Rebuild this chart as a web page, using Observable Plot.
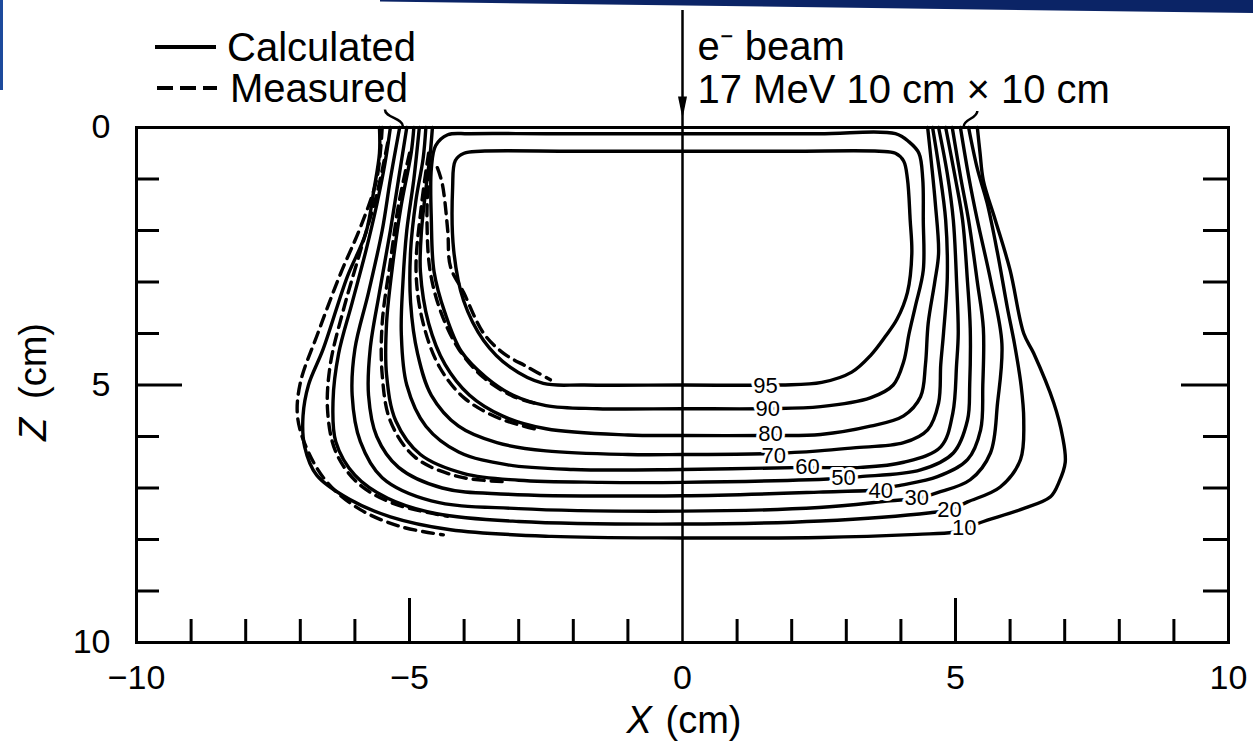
<!DOCTYPE html>
<html>
<head>
<meta charset="utf-8">
<script src="https://cdn.jsdelivr.net/npm/d3@7"></script>
<script src="https://cdn.jsdelivr.net/npm/@observablehq/plot@0.6"></script>
<style>
  body { margin: 0; background: #fff; font-family: "Liberation Sans", Arial, sans-serif; }
  #wrap { position: relative; width: 1253px; height: 750px; overflow: hidden; background: #fff; }
  #topbar { position: absolute; left: 380px; top: 0; width: 873px; height: 13px; background: #0b2466;
            clip-path: polygon(0 0, 100% 0, 100% 100%, 0 12%); }
  #leftbar { position: absolute; left: 0; top: 0; width: 3px; height: 90px; background: #1d4a9c; }
  .leg { position: absolute; display: flex; align-items: center; font-size: 40px; line-height: 40px; color: #000; height: 40px; }
  .leg svg { display: block; }
</style>
</head>
<body>
<div id="wrap">
  <div id="chart"></div>
  <div id="topbar"></div>
  <div id="leftbar"></div>
  <div class="leg" style="left:155px; top:27px;">
    <svg width="62" height="10"><line x1="0" y1="5" x2="61" y2="5" stroke="#000" stroke-width="4"/></svg>
    <span style="margin-left:10px;">Calculated</span>
  </div>
  <div class="leg" style="left:157px; top:68px;">
    <svg width="62" height="10"><line x1="0" y1="5" x2="60" y2="5" stroke="#000" stroke-width="4" stroke-dasharray="16,7"/></svg>
    <span style="margin-left:11px;">Measured</span>
  </div>
</div>
<script>
// ---------- data (x in cm, z = depth in cm) ----------
const levels = [95, 90, 80, 70, 60, 50, 40, 30, 20, 10];

// Calculated isodose curves (solid)
const calc95 = [[0,0.46],[2.0,0.46],[3.6,0.46],[3.9,0.5],[4.05,0.65],[4.12,1.0],[4.17,1.8],[4.2,2.45],[4.12,3.2],[3.93,3.72],[3.72,4.05],[3.45,4.42],[3.1,4.75],[2.55,4.95],[1.8,5.0],[0,5.0],[-1.8,5.0],[-2.55,4.97],[-3.15,4.66],[-3.64,4.14],[-4.01,3.36],[-4.19,2.39],[-4.21,1.16],[-4.16,0.64],[-4.0,0.5],[-3.7,0.46],[-2.0,0.46],[0,0.46]];
const calc90 = [[0,0.12],[2.5,0.12],[3.9,0.12],[4.15,0.28],[4.33,0.5],[4.4,1.0],[4.41,1.8],[4.41,2.77],[4.27,3.45],[4.15,4.0],[4.05,4.55],[3.86,5.0],[3.44,5.25],[2.53,5.42],[1.56,5.46],[0,5.46],[-1.56,5.46],[-2.5,5.4],[-3.1,5.2],[-3.6,4.85],[-4.05,4.35],[-4.35,3.6],[-4.55,2.8],[-4.6,1.8],[-4.6,0.8],[-4.52,0.35],[-4.3,0.14],[-3.9,0.12],[-2.5,0.12],[0,0.12]];
const calc80 = [[-4.58,0],[-4.62,0.5],[-4.7,1.2],[-4.78,2.0],[-4.8,2.8],[-4.65,3.8],[-4.35,4.6],[-3.9,5.2],[-3.3,5.6],[-2.5,5.85],[-1.0,5.97],[0,5.98],[1.61,5.98],[2.53,5.96],[3.44,5.8],[4.05,5.6],[4.36,5.23],[4.45,4.6],[4.5,3.8],[4.62,3.0],[4.69,2.44],[4.63,1.47],[4.56,0.7],[4.49,0]];
const calc70 = [[-4.7,0],[-4.75,0.6],[-4.88,1.4],[-4.98,2.4],[-4.98,3.4],[-4.85,4.4],[-4.6,5.2],[-4.1,5.8],[-3.4,6.12],[-2.5,6.28],[-1.0,6.35],[0,6.35],[1.67,6.33],[2.5,6.28],[3.13,6.22],[4.05,6.12],[4.49,5.87],[4.69,5.35],[4.73,4.6],[4.78,4.0],[4.85,2.9],[4.82,1.8],[4.7,0.8],[4.58,0]];
const calc60 = [[-4.82,0],[-4.92,1.0],[-5.05,2.0],[-5.12,3.0],[-5.15,4.0],[-5.05,5.0],[-4.7,5.8],[-4.1,6.3],[-3.2,6.55],[-2.0,6.64],[0,6.64],[2.29,6.6],[3.26,6.6],[4.05,6.5],[4.73,6.2],[4.95,5.55],[5.02,4.6],[5.05,4.0],[5.02,3.0],[4.96,1.8],[4.85,0.9],[4.69,0]];
const calc50 = [[-4.92,0],[-4.97,0.5],[-5.15,1.5],[-5.3,2.6],[-5.42,3.8],[-5.42,4.8],[-5.25,5.7],[-4.8,6.35],[-4.0,6.72],[-3.0,6.85],[-1.5,6.89],[0,6.89],[2.95,6.81],[3.26,6.78],[4.36,6.65],[4.96,6.32],[5.22,5.68],[5.26,5.0],[5.27,3.9],[5.22,3.0],[5.13,1.8],[5.0,1.0],[4.82,0]];
const calc40 = [[-5.05,0],[-5.2,1.0],[-5.35,2.0],[-5.55,3.2],[-5.72,4.3],[-5.75,5.2],[-5.6,6.0],[-5.2,6.6],[-4.4,7.0],[-3.2,7.12],[0,7.15],[2.5,7.08],[3.63,7.03],[3.93,6.96],[4.67,6.78],[5.22,6.45],[5.46,5.87],[5.5,5.0],[5.51,3.9],[5.4,3.0],[5.24,1.8],[5.1,1.0],[4.94,0]];
const calc30 = [[-5.18,0],[-5.35,1.0],[-5.5,2.0],[-5.75,3.2],[-6.0,4.3],[-6.05,5.2],[-5.9,6.1],[-5.5,6.8],[-4.6,7.25],[-3.0,7.4],[0,7.45],[2.5,7.38],[3.8,7.25],[4.29,7.2],[4.67,7.09],[5.27,6.84],[5.64,6.32],[5.77,5.35],[5.85,4.2],[5.65,3.0],[5.4,1.8],[5.25,1.0],[5.09,0]];
const calc20 = [[-5.35,0],[-5.45,0.7],[-5.6,1.5],[-5.8,2.4],[-6.05,3.4],[-6.3,4.4],[-6.4,5.3],[-6.35,6.1],[-6.0,6.75],[-5.4,7.2],[-4.5,7.5],[-3.0,7.65],[0,7.7],[2.53,7.64],[4.54,7.48],[4.89,7.42],[5.22,7.27],[5.82,6.98],[6.19,6.45],[6.25,5.68],[6.2,5.0],[6.08,4.2],[5.95,3.5],[5.77,2.44],[5.58,1.47],[5.4,0.8],[5.24,0]];
const calc10 = [[-5.55,0],[-5.55,0.5],[-5.65,1.2],[-5.8,2.05],[-6.14,2.9],[-6.58,4.3],[-6.85,5.0],[-6.95,5.6],[-6.92,6.2],[-6.7,6.75],[-6.1,7.22],[-5.35,7.56],[-4.25,7.81],[-2.4,7.94],[0,7.97],[2.53,7.96],[4.3,7.9],[4.96,7.86],[5.16,7.8],[5.46,7.67],[6.19,7.42],[6.74,7.17],[6.89,6.9],[7.01,6.5],[6.96,6.0],[6.8,5.35],[6.43,4.38],[6.25,4.0],[6.0,2.77],[5.73,1.8],[5.51,1.03],[5.45,0.5],[5.4,0]];

// Measured isodose curves (dashed, left half only)
const meas95 = [[-4.49,0.78],[-4.4,1.09],[-4.3,2.0],[-4.25,2.7],[-4.01,3.2],[-3.64,4.0],[-3.27,4.39],[-2.84,4.65],[-2.42,4.9]];
const meas90 = [[-4.65,0.8],[-4.68,1.8],[-4.62,2.8],[-4.42,3.6],[-4.1,4.3],[-3.65,4.85],[-3.1,5.22],[-2.6,5.38]];
const meas80 = [[-4.65,0.5],[-4.78,1.5],[-4.88,2.8],[-4.75,3.8],[-4.45,4.65],[-4.0,5.25],[-3.35,5.65],[-2.6,5.88]];
const meas50 = [[-5.0,0.5],[-5.2,1.5],[-5.35,2.6],[-5.5,3.8],[-5.5,4.8],[-5.35,5.7],[-4.9,6.4],[-4.1,6.78],[-3.2,6.88]];
const meas20 = [[-5.4,0.3],[-5.6,1.3],[-5.9,2.4],[-6.2,3.5],[-6.45,4.6],[-6.5,5.5],[-6.35,6.3],[-5.95,6.9],[-5.3,7.3],[-4.3,7.55]];
const meas10 = [[-5.5,0],[-5.6,1.0],[-5.9,1.94],[-6.26,2.83],[-6.68,4.0],[-7.0,4.96],[-7.05,5.62],[-6.87,6.26],[-6.5,6.9],[-5.9,7.42],[-5.16,7.75],[-4.38,7.91]];

// Contour label positions (same order as levels)
const labelX = [1.52, 1.56, 1.61, 1.67, 2.29, 2.95, 3.63, 4.29, 4.89, 5.16];
const labelZ = [5.02, 5.46, 5.95, 6.37, 6.6, 6.8, 7.05, 7.2, 7.42, 7.78];

// Small leader marks at the field edges (x1, z1 -> x2, z2)
const leaderX1 = [-5.45, 5.4];
const leaderZ1 = [-0.35, -0.32];
const leaderX2 = [-5.12, 5.15];
const leaderZ2 = [-0.02, -0.02];

// Axis ticks
const xTickLabels = [-10, -5, 0, 5, 10];
const xMinorTicks = [-9, -8, -7, -6, -4, -3, -2, -1, 1, 2, 3, 4, 6, 7, 8, 9];
const xMajorTicks = [-5, 5];
const zTickLabels = [0, 5, 10];
const zMinorTicks = [1, 2, 3, 4, 6, 7, 8, 9];
const zMajorTicks = [5];
const beamX = [0];

// ---------- build tables ----------
const calcSets = [[95, calc95], [90, calc90], [80, calc80], [70, calc70], [60, calc60], [50, calc50], [40, calc40], [30, calc30], [20, calc20], [10, calc10]];
const measSets = [[95, meas95], [90, meas90], [80, meas80], [50, meas50], [20, meas20], [10, meas10]];
const calcTable = calcSets.flatMap(([lvl, pts]) => pts.map(([x, z]) => ({level: lvl, x, z})));
const measTable = measSets.flatMap(([lvl, pts]) => pts.map(([x, z]) => ({level: lvl, x, z})));
const labelTable = levels.map((l, i) => ({level: l, x: labelX[i], z: labelZ[i]}));
const leaderTable = leaderX1.map((x1, i) => ({x1, z1: leaderZ1[i], x2: leaderX2[i], z2: leaderZ2[i]}));

const W = 1253, H = 750, mL = 136, mR = 25, mT = 127, mB = 108;
const plotW = W - mL - mR, plotH = H - mT - mB;

const arrowHead = {
  draw(ctx) {
    ctx.moveTo(0, 11);
    ctx.lineTo(-4.5, -11);
    ctx.lineTo(4.5, -11);
    ctx.closePath();
  }
};

const font = "'Liberation Sans', Arial, Helvetica, sans-serif";

const chart = Plot.plot({
  width: W, height: H,
  marginLeft: mL, marginRight: mR, marginTop: mT, marginBottom: mB,
  x: {domain: [-10, 10], axis: null},
  y: {domain: [0, 10], reverse: true, axis: null},
  style: {fontFamily: font, color: "black", background: "transparent", overflow: "visible"},
  marks: [
    // contours
    Plot.line(calcTable, {x: "x", y: "z", z: "level", curve: "catmull-rom", stroke: "black", strokeWidth: 3.4, strokeLinecap: "round", strokeLinejoin: "round"}),
    Plot.line(measTable, {x: "x", y: "z", z: "level", curve: "catmull-rom", stroke: "black", strokeWidth: 3.4, strokeDasharray: "11,7"}),
    Plot.link(leaderTable, {x1: "x1", y1: "z1", x2: "x2", y2: "z2", stroke: "black", strokeWidth: 2.5, curve: "bump-y"}),
    // contour labels
    Plot.text(labelTable, {x: "x", y: "z", text: d => String(d.level), fontSize: 22, fill: "black", stroke: "white", strokeWidth: 6}),
    // frame and inward ticks
    Plot.frame({stroke: "black", strokeWidth: 3}),
    Plot.ruleX(xMinorTicks, {insetTop: plotH - 23, strokeWidth: 3}),
    Plot.ruleX(xMajorTicks, {insetTop: plotH - 44, strokeWidth: 3}),
    Plot.ruleY(zMinorTicks, {insetRight: plotW - 23, strokeWidth: 3}),
    Plot.ruleY(zMajorTicks, {insetRight: plotW - 46, strokeWidth: 3}),
    Plot.ruleY(zMinorTicks, {insetLeft: plotW - 25, strokeWidth: 3}),
    Plot.ruleY(zMajorTicks, {insetLeft: plotW - 47, strokeWidth: 3}),
    // beam axis and arrow
    Plot.ruleX(beamX, {insetTop: -117, strokeWidth: 2.5}),
    Plot.dot(beamX, {x: d => d, frameAnchor: "top", dy: -20, symbol: arrowHead, fill: "black", stroke: "none"}),
    // axes tick labels
    Plot.axisX(xTickLabels, {anchor: "bottom", tickSize: 0, tickPadding: 22, fontSize: 34, fill: "black", label: null, tickFormat: d => d < 0 ? "\u2212" + Math.abs(d) : String(d)}),
    Plot.axisY(zTickLabels, {anchor: "left", tickSize: 0, tickPadding: 26, fontSize: 34, fill: "black", label: null, tickFormat: d => String(d)}),
    // axis titles
    Plot.text(["X"], {frameAnchor: "bottom", dx: -56, dy: 78, lineAnchor: "middle", textAnchor: "start", fontSize: 38, fontStyle: "italic", fill: "black"}),
    Plot.text(["(cm)"], {frameAnchor: "bottom", dx: -17, dy: 78, lineAnchor: "middle", textAnchor: "start", fontSize: 38, fill: "black"}),
    Plot.text(["Z"], {frameAnchor: "left", dx: -103, dy: 56, rotate: -90, lineAnchor: "middle", textAnchor: "start", fontSize: 38, fontStyle: "italic", fill: "black"}),
    Plot.text(["(cm)"], {frameAnchor: "left", dx: -103, dy: 14, rotate: -90, lineAnchor: "middle", textAnchor: "start", fontSize: 38, fill: "black"}),
    // beam annotation
    Plot.text(["e\u207B beam"], {frameAnchor: "top", dx: 15, dy: -80, lineAnchor: "middle", textAnchor: "start", fontSize: 40, fill: "black"}),
    Plot.text(["17 MeV 10 cm \u00D7 10 cm"], {frameAnchor: "top", dx: 15, dy: -37, lineAnchor: "middle", textAnchor: "start", fontSize: 40, fill: "black"})
  ]
});
document.getElementById("chart").appendChild(chart);
</script>
</body>
</html>
